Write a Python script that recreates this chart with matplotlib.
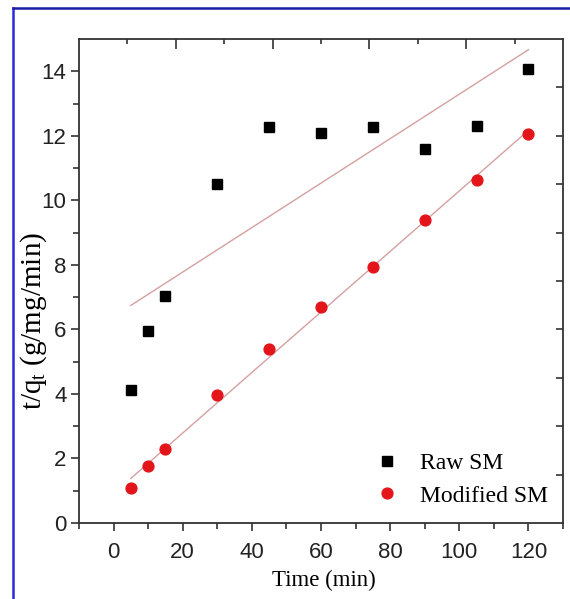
import numpy as np
import matplotlib
matplotlib.use("Agg")
import matplotlib.pyplot as plt
from matplotlib.lines import Line2D

plt.rcParams['font.family'] = ['Liberation Serif', 'DejaVu Serif']
plt.rcParams['mathtext.fontset'] = 'custom'
plt.rcParams['mathtext.rm'] = 'Liberation Serif'
plt.rcParams['mathtext.it'] = 'Liberation Serif:italic'

# pseudo-second-order kinetics, t/qt vs contact time
time = [5, 10, 15, 30, 45, 60, 75, 90, 105, 120]
raw_sm = [4.11, 5.96, 7.05, 10.52, 12.26, 12.08, 12.28, 11.60, 12.31, 14.06]
mod_sm = [1.07, 1.76, 2.30, 3.97, 5.39, 6.68, 7.93, 9.38, 10.64, 12.06]

xticks = [0, 20, 40, 60, 80, 100, 120]
yticks = [0, 2, 4, 6, 8, 10, 12, 14]

fig = plt.figure(figsize=(5.70, 5.99), dpi=100)
ax = fig.add_axes([0.1386, 0.1269, 0.8491, 0.8080])

t = np.array(time, dtype=float)
fit_col = '#d4a0a0'
for ys in (raw_sm, mod_sm):
    k, b = np.polyfit(t, ys, 1)
    xx = np.linspace(t.min(), t.max(), 50)
    ax.plot(xx, k * xx + b, color=fit_col, lw=1.0, zorder=2)

ax.plot(time, raw_sm, 's', color='black', ms=7.2, ls='none', label='Raw SM', zorder=3)
ax.plot(time, mod_sm, 'o', color='#e3151b', ms=7.8, ls='none', label='Modified SM', zorder=3)

ax.set_xlim(-10, 130)
ax.set_ylim(0, 15)
ax.set_xticks(xticks)
ax.set_yticks(yticks)
ax.set_xticks(np.arange(-10, 131, 10), minor=True)
ax.set_yticks(np.arange(1, 15, 2), minor=True)

for lab in ax.get_xticklabels() + ax.get_yticklabels():
    lab.set_fontfamily('Liberation Sans')
    lab.set_fontsize(16)
    lab.set_color('#222222')

ax.tick_params(which='major', direction='out', length=6, width=1.2, color='#333333')
ax.tick_params(which='minor', direction='out', length=4, width=1.2, color='#333333')
ax.tick_params(axis='x', which='major', pad=7.5)
ax.tick_params(axis='y', which='major', pad=3)
ax.tick_params(top=False, right=False, which='both')

for sp in ax.spines.values():
    sp.set_linewidth(1.3)
    sp.set_color('#333333')

# opposite axes carry their own tick spacing
top = ax.twiny()
top.set_xlim(ax.get_xlim())
top.set_xticks(np.arange(18, 117, 28))
top.set_xticks(np.arange(4, 117, 28), minor=True)
top.tick_params(which='major', direction='in', length=7, width=1.2, color='#333333', labeltop=False)
top.tick_params(which='minor', direction='in', length=3.5, width=1.2, color='#333333')

right = ax.twinx()
right.set_ylim(ax.get_ylim())
right.set_yticks(np.arange(1.5, 14.0, 1.5))
right.tick_params(direction='in', length=5, width=1.2, color='#333333', labelright=False)
for a in (top, right):
    for sp in a.spines.values():
        sp.set_visible(False)

ax.set_xlabel('Time (min)', fontsize=16.5)
ax.xaxis.set_label_coords(0.505, -0.097)
ax.xaxis.label.set_va('top')
ax.set_ylabel('t/q$_\\mathrm{t}$ (g/mg/min)', fontsize=21)
ax.yaxis.set_label_coords(-0.062, 0.417)

ax.legend(loc='center left', bbox_to_anchor=(0.6583, 0.1995), bbox_transform=fig.transFigure,
          frameon=False, fontsize=17, handlelength=1.0, handletextpad=0.9,
          borderpad=0, borderaxespad=0, labelspacing=0.48)

# page frame
fig.add_artist(Line2D([13 / 570, 13 / 570], [0, 1 - 7.5 / 599], color='#2a2ad8', lw=1.8))
fig.add_artist(Line2D([13 / 570, 1], [1 - 7.5 / 599, 1 - 7.5 / 599], color='#1c1ca8', lw=1.8))

fig.savefig('out.png', dpi=100)
